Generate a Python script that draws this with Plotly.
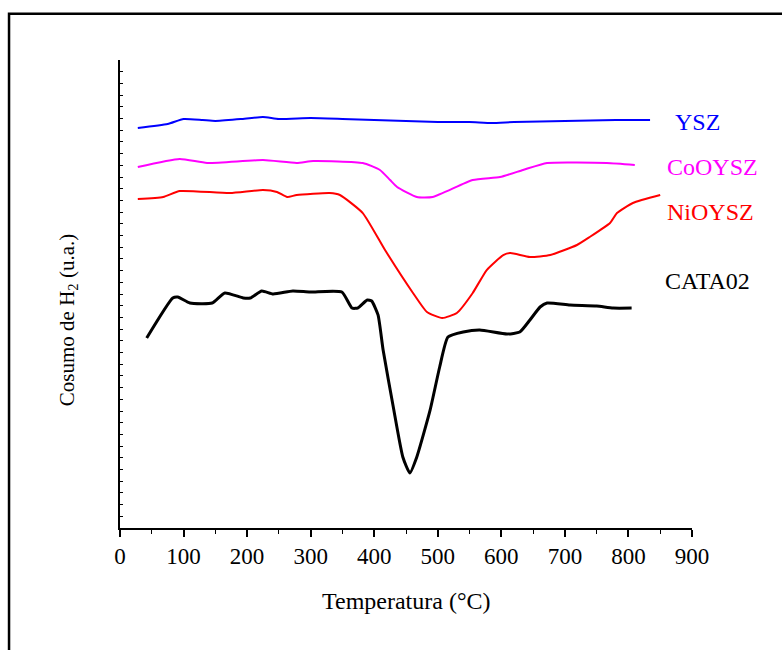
import plotly.graph_objects as go

# Temperature (°C) and H2 consumption (a.u.)
ysz_T = [28, 75, 100, 130, 150, 190, 225, 250, 300, 350, 400, 450, 500, 550, 585, 620, 700, 780, 834]
ysz_v = [34.19, 34.53, 34.96, 34.87, 34.79, 34.96, 35.13, 34.96, 35.04, 34.96, 34.87, 34.79, 34.70,
         34.70, 34.62, 34.70, 34.79, 34.87, 34.87]

co_T = [28, 94, 137, 225, 278, 304, 382, 409, 425, 436, 467, 492, 555, 598, 634, 672, 766, 810]
co_v = [30.85, 31.54, 31.20, 31.45, 31.20, 31.37, 31.20, 30.60, 29.74, 29.15, 28.29, 28.29, 29.74,
        30.00, 30.60, 31.20, 31.20, 31.03]

ni_T = [28, 68, 94, 173, 225, 247, 263, 278, 330, 346, 382, 417, 461, 483, 507, 530, 555, 577, 603,
        614, 645, 677, 719, 739, 771, 782, 807, 850]
ni_v = [28.12, 28.29, 28.80, 28.63, 28.89, 28.72, 28.29, 28.46, 28.63, 28.46, 26.92, 23.76, 20.09,
        18.46, 17.95, 18.38, 20.09, 22.05, 23.33, 23.50, 23.16, 23.33, 24.19, 24.87, 26.07, 26.92,
        27.78, 28.46]

cata_T = [42, 83, 91, 110, 145, 165, 194, 205, 223, 241, 272, 299, 349, 365, 374, 389, 396, 406, 414,
          430, 445, 456, 467, 488, 503, 516, 540, 566, 609, 629, 645, 661, 672, 708, 750, 776, 805]
cata_v = [16.24, 19.66, 19.74, 19.23, 19.23, 20.09, 19.66, 19.66, 20.26, 20.00, 20.26, 20.17, 20.17,
          18.80, 18.80, 19.49, 19.40, 18.21, 15.21, 10.34, 6.07, 4.70, 6.07, 10.09, 13.76, 16.32,
          16.75, 16.92, 16.58, 16.75, 17.78, 18.89, 19.23, 19.06, 18.97, 18.80, 18.80]

x_ticks = [0, 100, 200, 300, 400, 500, 600, 700, 800, 900]

series_names = ["YSZ", "CoOYSZ", "NiOYSZ", "CATA02"]
series_colors = ["#0000FF", "#FF00FF", "#FF0000", "#000000"]

FONT = "Times New Roman, Liberation Serif, serif"

fig = go.Figure()
data = [(ysz_T, ysz_v), (co_T, co_v), (ni_T, ni_v), (cata_T, cata_v)]
for (t, v), name, col in zip(data, series_names, series_colors):
    fig.add_trace(go.Scatter(
        x=t, y=v, mode="lines", name=name,
        line=dict(color=col, width=3 if name == "CATA02" else 2,
                  shape="spline", smoothing=0.5),
        showlegend=False))

# series labels at the right end
label_pos = {"YSZ": (870, 34.7), "CoOYSZ": (857, 30.85), "NiOYSZ": (857, 27.0), "CATA02": (854, 21.1)}
annotations = []
for name, col in zip(series_names, series_colors):
    lx, ly = label_pos[name]
    annotations.append(dict(x=lx, y=ly, xref="x", yref="y", text=name, showarrow=False,
                            xanchor="left", yanchor="middle",
                            font=dict(family=FONT, size=24, color=col)))

annotations.append(dict(x=0.5, y=-0.155, xref="paper", yref="paper", text="Temperatura (°C)",
                        showarrow=False, xanchor="center", yanchor="middle",
                        font=dict(family=FONT, size=24, color="black")))
annotations.append(dict(x=-0.091, y=0.444, xref="paper", yref="paper",
                        text="Cosumo de H<sub>2</sub> (u.a.)", textangle=-90,
                        showarrow=False, xanchor="center", yanchor="middle",
                        font=dict(family=FONT, size=21, color="black")))

fig.update_layout(
    width=782, height=650,
    margin=dict(l=120, r=90, t=60, b=122),
    paper_bgcolor="white", plot_bgcolor="white",
    annotations=annotations,
    shapes=[dict(type="rect", xref="paper", yref="paper",
                 x0=-0.194, x1=1.3, y0=-0.4, y1=1.099,
                 line=dict(color="black", width=2.5), layer="below")],
    xaxis=dict(range=[0, 900], tickvals=x_ticks, ticktext=[str(t) for t in x_ticks],
               showgrid=False, zeroline=False, showline=True, linecolor="black", linewidth=1.5,
               ticks="outside", ticklen=7, tickwidth=1.5, tickcolor="black",
               minor=dict(dtick=50, ticks="outside", ticklen=4, tickwidth=1.2, tickcolor="black"),
               tickfont=dict(family=FONT, size=23, color="black")),
    yaxis=dict(range=[0, 40], dtick=1, showticklabels=False,
               showgrid=False, zeroline=False, showline=True, linecolor="black", linewidth=1.5,
               ticks="inside", ticklen=3, tickwidth=1, tickcolor="black"),
)

fig.write_html("out.html")
